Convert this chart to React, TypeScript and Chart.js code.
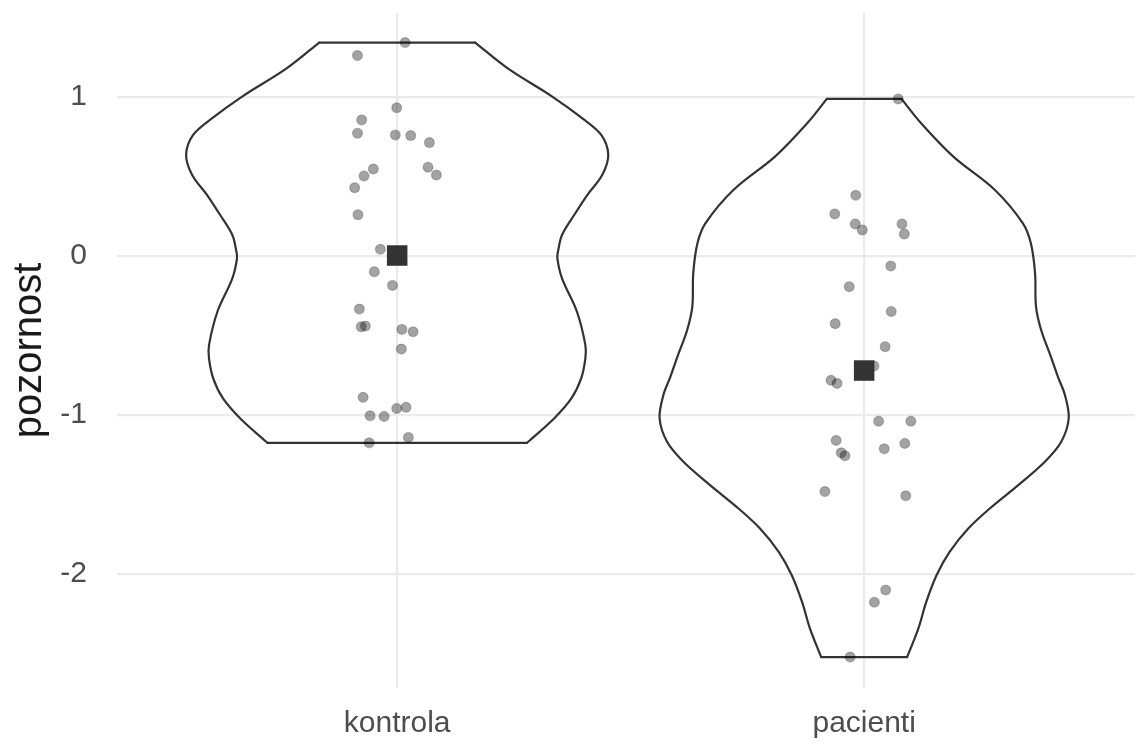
import React, { useEffect, useRef } from "react";
import { Chart, registerables } from "chart.js";

Chart.register(...registerables);

// ---- data ----
const categories = ["kontrola", "pacienti"];
const yTicks = [-2, -1, 0, 1];
const yTitle = "pozornost";

const kontrolaValues = [
  1.344, 1.262, 0.933, 0.857, 0.773, 0.762, 0.758, 0.714, 0.548, 0.559,
  0.504, 0.51, 0.43, 0.26, 0.042, -0.099, -0.185, -0.334, -0.445, -0.441,
  -0.462, -0.477, -0.586, -0.89, -0.96, -0.953, -1.006, -1.01, -1.176, -1.142,
];
const kontrolaJitter = [
  0.017, -0.085, -0.001, -0.076, -0.085, -0.004, 0.029, 0.069, -0.051, 0.066,
  -0.071, 0.084, -0.091, -0.084, -0.036, -0.049, -0.01, -0.081, -0.077, -0.068,
  0.01, 0.034, 0.009, -0.073, -0.001, 0.019, -0.058, -0.028, -0.06, 0.024,
];
const pacientiValues = [
  0.989, 0.382, 0.265, 0.202, 0.164, 0.202, 0.139, -0.063, -0.193, -0.349,
  -0.426, -0.571, -0.693, -0.783, -0.802, -1.04, -1.04, -1.161, -1.239, -1.258,
  -1.214, -1.18, -1.483, -1.51, -2.103, -2.18, -2.525,
];
const pacientiJitter = [
  0.073, -0.018, -0.063, -0.019, -0.004, 0.081, 0.086, 0.057, -0.032, 0.058,
  -0.062, 0.045, 0.021, -0.071, -0.058, 0.031, 0.1, -0.06, -0.049, -0.041,
  0.043, 0.087, -0.084, 0.089, 0.046, 0.022, -0.03,
];

// violin outlines: y levels and half-widths (in category units)
const kontrolaViolinY = [
  1.344, 1.183, 1.004, 0.868, 0.762, 0.636, 0.51, 0.384, 0.258, 0.132, 0.038,
  -0.014, -0.141, -0.351, -0.561, -0.645, -0.771, -0.897, -1.023, -1.176,
];
const kontrolaViolinHalfWidth = [
  0.167, 0.236, 0.332, 0.396, 0.437, 0.452, 0.439, 0.407, 0.379, 0.353, 0.345,
  0.343, 0.353, 0.385, 0.403, 0.403, 0.394, 0.373, 0.336, 0.278,
];
const pacientiViolinY = [
  0.989, 0.836, 0.626, 0.416, 0.206, 0.08, -0.109, -0.319, -0.466, -0.635,
  -0.761, -0.876, -1.023, -1.17, -1.296, -1.443, -1.59, -1.716, -1.863, -2.01,
  -2.178, -2.346, -2.525,
];
const pacientiViolinHalfWidth = [
  0.08, 0.122, 0.191, 0.28, 0.34, 0.357, 0.366, 0.368, 0.379, 0.4, 0.415, 0.43,
  0.438, 0.422, 0.387, 0.33, 0.269, 0.223, 0.183, 0.155, 0.133, 0.116, 0.092,
];

const mean = (a: number[]) => a.reduce((s, v) => s + v, 0) / a.length;

const LINE = "#333333";

function violinDatasets(center: number, ys: number[], hws: number[]) {
  const base = {
    showLine: true,
    pointRadius: 0,
    borderColor: LINE,
    borderWidth: 2.2,
    fill: false,
    order: 3,
    borderCapStyle: "round" as const,
    borderJoinStyle: "round" as const,
  };
  const n = ys.length - 1;
  return [
    { ...base, tension: 0.35, data: ys.map((y, i) => ({ x: center + hws[i], y })) },
    { ...base, tension: 0.35, data: ys.map((y, i) => ({ x: center - hws[i], y })) },
    { ...base, tension: 0, data: [{ x: center - hws[0], y: ys[0] }, { x: center + hws[0], y: ys[0] }] },
    { ...base, tension: 0, data: [{ x: center - hws[n], y: ys[n] }, { x: center + hws[n], y: ys[n] }] },
  ];
}

function pointDataset(center: number, values: number[], jitter: number[]) {
  return {
    showLine: false,
    order: 2,
    pointRadius: 5,
    pointHoverRadius: 5,
    pointBackgroundColor: "rgba(0,0,0,0.36)",
    pointBorderColor: "rgba(0,0,0,0.2)",
    pointBorderWidth: 1.2,
    data: values.map((v, i) => ({ x: center + jitter[i], y: v })),
  };
}

const zeroPad = (s: any) => {
  s.paddingTop = 0;
  s.paddingBottom = 0;
  s.paddingLeft = 0;
  s.paddingRight = 0;
};

export default function App() {
  const ref = useRef<HTMLCanvasElement | null>(null);
  useEffect(() => {
    if (!ref.current) return;
    const font = "'Liberation Sans', Arial, Helvetica, sans-serif";
    const chart = new Chart(ref.current, {
      type: "scatter",
      data: {
        datasets: [
          {
            order: 1,
            showLine: false,
            pointStyle: "rect",
            pointRadius: 14.5,
            pointHoverRadius: 14.5,
            pointBackgroundColor: "#333333",
            pointBorderWidth: 0,
            data: [
              { x: 1, y: mean(kontrolaValues) },
              { x: 2, y: mean(pacientiValues) },
            ],
          } as any,
          pointDataset(1, kontrolaValues, kontrolaJitter) as any,
          pointDataset(2, pacientiValues, pacientiJitter) as any,
          ...(violinDatasets(1, kontrolaViolinY, kontrolaViolinHalfWidth) as any[]),
          ...(violinDatasets(2, pacientiViolinY, pacientiViolinHalfWidth) as any[]),
        ],
      },
      options: {
        responsive: false,
        animation: false,
        devicePixelRatio: 1,
        layout: { autoPadding: false, padding: { top: 13, left: 0, right: 0, bottom: 0 } },
        plugins: { legend: { display: false }, tooltip: { enabled: false } },
        events: [],
        scales: {
          x: {
            type: "linear",
            min: 0.4,
            max: 2.58,
            afterBuildTicks: (s: any) => {
              s.ticks = categories.map((_, i) => ({ value: i + 1 }));
            },
            afterFit: (s: any) => {
              s.height = 56;
              zeroPad(s);
            },
            ticks: {
              callback: (v: any) => categories[Math.round(Number(v)) - 1] ?? "",
              font: { family: font, size: 30 },
              color: "#4d4d4d",
              padding: 18,
              maxRotation: 0,
              autoSkip: false,
            },
            grid: { color: "#ebebeb", lineWidth: 2.2, drawTicks: false },
            border: { display: false },
          },
          y: {
            type: "linear",
            min: -2.72,
            max: 1.53,
            afterBuildTicks: (s: any) => {
              s.ticks = yTicks.map((v) => ({ value: v }));
            },
            afterFit: (s: any) => {
              s.width = 117;
              zeroPad(s);
            },
            ticks: {
              callback: (v: any) => String(v),
              font: { family: font, size: 30 },
              color: "#4d4d4d",
              padding: 30,
            },
            title: {
              display: true,
              text: yTitle,
              font: { family: font, size: 40 },
              color: "#1a1a1a",
              padding: { top: 6, bottom: 0 },
            },
            grid: { color: "#ebebeb", lineWidth: 2.2, drawTicks: false },
            border: { display: false },
          },
        },
      },
    });
    return () => chart.destroy();
  }, []);
  return (
    <div style={{ position: "fixed", left: 0, top: 0, width: 1135, height: 744, background: "#fff" }}>
      <canvas ref={ref} width={1135} height={744} style={{ display: "block", width: 1135, height: 744 }} />
    </div>
  );
}
